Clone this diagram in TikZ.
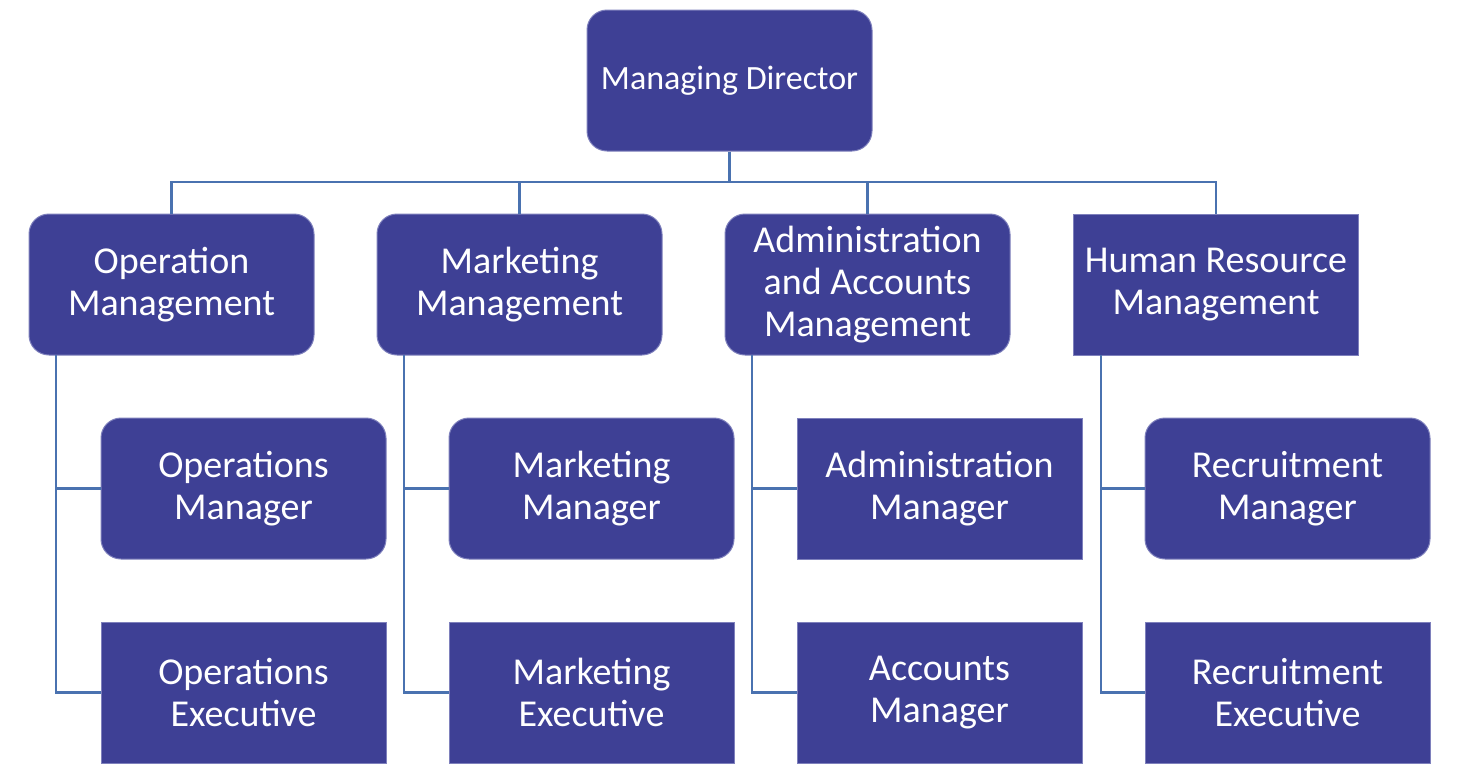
\documentclass[tikz,border=0pt]{standalone}
\usepackage{fontspec}
\setmainfont{Carlito}
\definecolor{boxfill}{HTML}{3E4095}
\definecolor{boxedge}{HTML}{7E80BC}
\definecolor{linkcol}{HTML}{4A72B0}
\tikzset{
  orgbox/.style={rectangle, fill=boxfill, draw=boxedge, line width=0.5pt,
    minimum width=142.5pt, minimum height=70.5pt, inner sep=0pt,
    align=center, text=white, font=\fontsize{19}{21.2}\selectfont},
  roundbox/.style={orgbox, rounded corners=10pt},
  link/.style={draw=linkcol, line width=1.2pt}
}
\begin{document}
\begin{tikzpicture}[x=0.5pt,y=-0.5pt]
\useasboundingbox (0,0) rectangle (1474,772);
% top
\node[roundbox, font=\fontsize{17}{20}\selectfont] (md) at (729.5,80.5) {Managing Director};
% row 2
\node[roundbox] (opm) at (171.5,284.5) {Operation\\Management};
\node[roundbox] (mkm) at (519.5,284.5) {Marketing\\Management};
\node[roundbox] (adm) at (867.5,284.5) {Administration\\and Accounts\\Management};
\node[orgbox] (hrm) at (1216,284.5) {Human Resource\\Management};
% row 3
\node[roundbox] (opmg) at (243.5,488.5) {Operations\\Manager};
\node[roundbox] (mkmg) at (591.5,488.5) {Marketing\\Manager};
\node[orgbox] (admg) at (939.5,488.5) {Administration\\Manager};
\node[roundbox] (rcmg) at (1287.5,488.5) {Recruitment\\Manager};
% row 4
\node[orgbox] (opex) at (243.5,692.5) {Operations\\Executive};
\node[orgbox] (mkex) at (591.5,692.5) {Marketing\\Executive};
\node[orgbox] (acmg) at (939.5,692.5) {Accounts\\Manager};
\node[orgbox] (rcex) at (1287.5,692.5) {Recruitment\\Executive};
% bus from top
\coordinate (bus) at (729.5,182);
\draw[link] (md.south) -- (bus);
\draw[link] (bus) -| (opm.north);
\draw[link] (bus) -| (mkm.north);
\draw[link] (bus) -| (adm.north);
\draw[link] (bus) -| (hrm.north);
% side trunks
\coordinate (t1) at (56,355);
\coordinate (t2) at (404,355);
\coordinate (t3) at (752,355);
\coordinate (t4) at (1101,355);
\draw[link] (t1) |- (opex.west);
\draw[link] (t1 |- opmg.west) -- (opmg.west);
\draw[link] (t2) |- (mkex.west);
\draw[link] (t2 |- mkmg.west) -- (mkmg.west);
\draw[link] (t3) |- (acmg.west);
\draw[link] (t3 |- admg.west) -- (admg.west);
\draw[link] (t4) |- (rcex.west);
\draw[link] (t4 |- rcmg.west) -- (rcmg.west);
\end{tikzpicture}
\end{document}
